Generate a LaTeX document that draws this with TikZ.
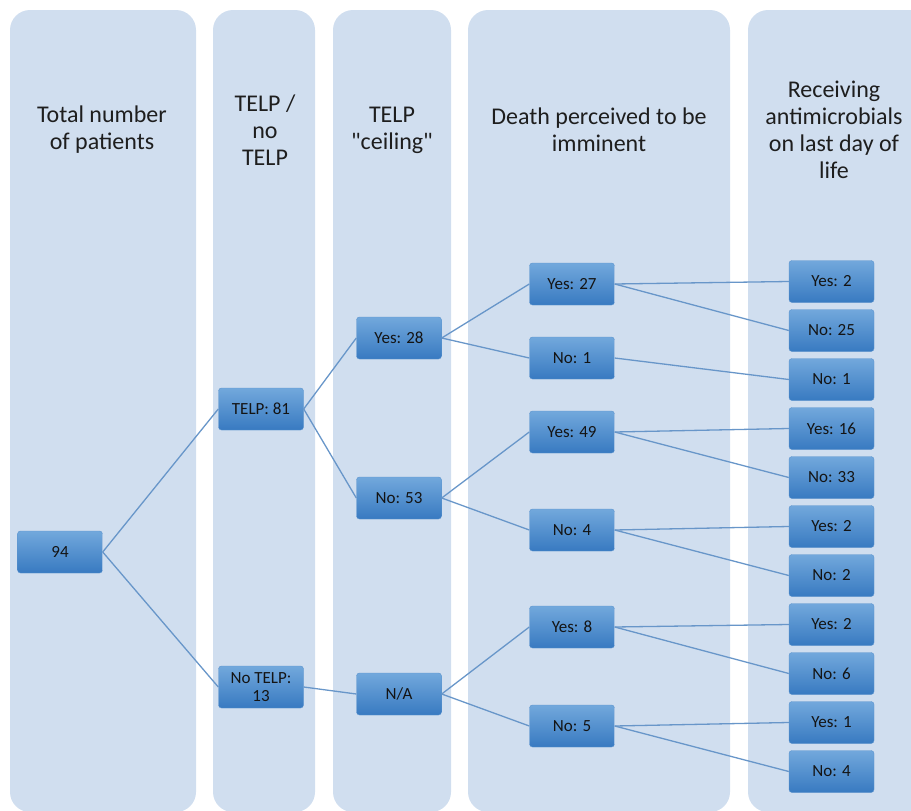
\documentclass[tikz,border=0pt]{standalone}
\usepackage{fontspec}
\setmainfont{Carlito}[Ligatures=TeXOff]
\definecolor{colfill}{RGB}{208,222,239}
\definecolor{boxtop}{RGB}{114,168,220}
\definecolor{boxbot}{RGB}{56,122,193}
\definecolor{boxedge}{RGB}{92,148,206}
\definecolor{linkcol}{RGB}{104,150,201}
\definecolor{headtext}{RGB}{30,30,30}
\definecolor{boxtext}{RGB}{20,20,20}
\begin{document}
\begin{tikzpicture}[x=1pt, y=-1pt,
		colbox/.style = {fill=colfill, rounded corners=20pt},
		head/.style = {align=center, text=headtext, font=\fontsize{24}{27}\selectfont},
		leaf/.style = {draw=boxedge, rounded corners=3pt, top color=boxtop, bottom color=boxbot,
			minimum width=85pt, minimum height=42pt, inner sep=1pt, align=center, text=boxtext,
			font=\fontsize{17}{18}\selectfont},
		link/.style = {draw=linkcol, line width=1.3pt}]
		
		\clip (0,0) rectangle (911,811);
		
		% column panels
		\fill[colbox] (10,10) rectangle (196,812);
		\fill[colbox] (213,10) rectangle (315,812);
		\fill[colbox] (333,10) rectangle (451,812);
		\fill[colbox] (468,10) rectangle (730,812);
		\fill[colbox] (748,10) rectangle (940,812);
		
		% headings
		\node[head] (h1) at (102,130) {Total number\\of patients};
		\node[head] (h2) at (265,130) {TELP /\\no\\TELP};
		\node[head] (h3) at (392,130) {TELP\\"ceiling"};
		\node[head] (h4) at (599,130) {Death perceived to be\\imminent};
		\node[head] (h5) at (834,130) {Receiving\\antimicrobials\\on last day of\\life};
		
		% tree
		\node[leaf] (total) at (60,552) {94};
		\node[leaf] (telp) at (261,409) {TELP: 81};
		\node[leaf] (notelp) at (261,687) {No TELP:\\13};
		\node[leaf] (yes28) at (399,338) {Yes: 28};
		\node[leaf] (no53) at (399,498) {No: 53};
		\node[leaf] (na) at (399,694) {N/A};
		\node[leaf] (yes27) at (572,284) {Yes: 27};
		\node[leaf] (no1) at (572,358) {No: 1};
		\node[leaf] (yes49) at (572,432) {Yes: 49};
		\node[leaf] (no4) at (572,530) {No: 4};
		\node[leaf] (yes8) at (572,627) {Yes: 8};
		\node[leaf] (no5) at (572,726) {No: 5};
		\foreach \lbl [count=\i] in {Yes: 2, No: 25, No: 1, Yes: 16, No: 33, Yes: 2, No: 2, Yes: 2, No: 6, Yes: 1, No: 4}
		\node[leaf] (r\i) at (831.5,232.5+49*\i) {\lbl};
		
		\foreach \a/\b in {total/telp, total/notelp, telp/yes28, telp/no53, notelp/na,
			yes28/yes27, yes28/no1, no53/yes49, no53/no4, na/yes8, na/no5,
			yes27/r1, yes27/r2, no1/r3, yes49/r4, yes49/r5, no4/r6, no4/r7,
			yes8/r8, yes8/r9, no5/r10, no5/r11}
		\draw[link] (\a.east) -- (\b.west);
		\end{tikzpicture}
\end{document}
